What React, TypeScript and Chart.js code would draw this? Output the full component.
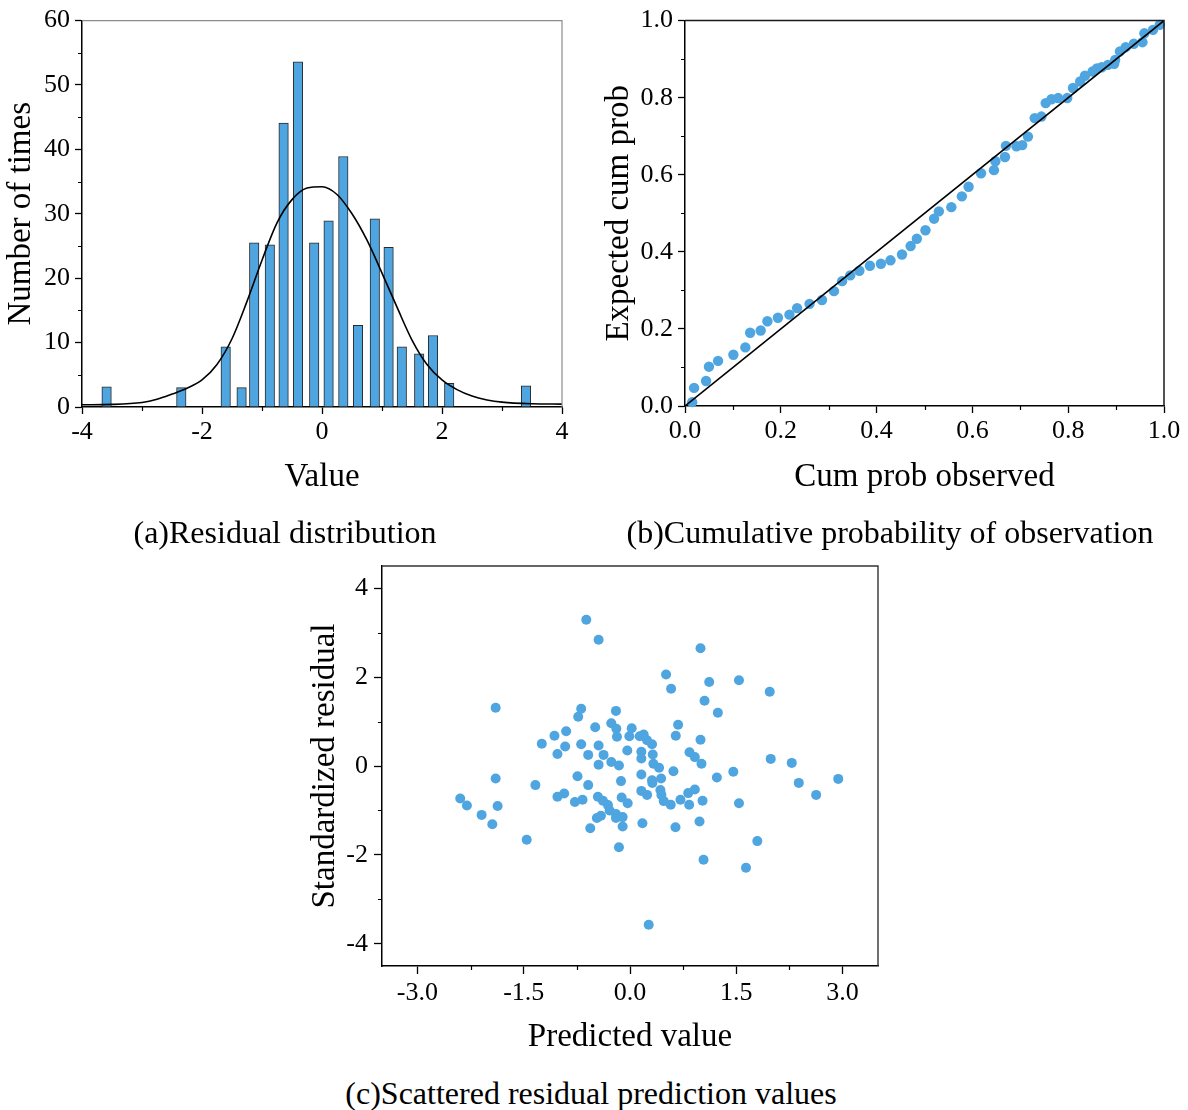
import React, { useEffect, useRef } from "react";
import { Chart, registerables } from "chart.js";

Chart.register(...registerables);

// ---------- Panel (a): residual histogram ----------
const binCenters = [-3.59, -2.345, -1.605, -1.34, -1.13, -0.87, -0.64, -0.4, -0.13, 0.11, 0.355, 0.6, 0.88, 1.11, 1.33, 1.62, 1.85, 2.12, 3.4];
const binCounts = [3.15, 3.0, 9.35, 3.0, 25.5, 25.2, 44.1, 53.6, 25.5, 28.9, 38.9, 12.7, 29.2, 24.8, 9.35, 8.27, 11.1, 3.67, 3.3];
const curveX = [-4, -3.5, -3, -2.75, -2.5, -2.25, -2, -1.75, -1.5, -1.25, -1, -0.75, -0.5, -0.25, 0, 0.25, 0.5, 0.75, 1, 1.25, 1.5, 1.75, 2, 2.25, 2.5, 2.75, 3, 3.5, 4];
const curveY = [0.35, 0.4, 0.7, 1.2, 2.0, 2.9, 4.2, 6.6, 10.6, 16.4, 22.8, 28.6, 32.2, 34.0, 34.2, 33.0, 30.0, 25.9, 20.8, 15.5, 10.4, 6.6, 4.2, 2.7, 1.7, 1.1, 0.75, 0.5, 0.45];
const histXTicks = [-4, -2, 0, 2, 4];
const histXMinor = [-3, -1, 1, 3];
const histYTicks = [0, 10, 20, 30, 40, 50, 60];
const histYMinor = [5, 15, 25, 35, 45, 55];

// ---------- Panel (b): P-P plot ----------
const ppObserved = [0.015, 0.019, 0.044, 0.05, 0.069, 0.101, 0.126, 0.136, 0.158, 0.172, 0.194, 0.218, 0.234, 0.26, 0.286, 0.311, 0.328, 0.345, 0.364, 0.386, 0.409, 0.429, 0.453, 0.471, 0.484, 0.502, 0.52, 0.53, 0.556, 0.578, 0.592, 0.618, 0.645, 0.648, 0.668, 0.67, 0.692, 0.704, 0.716, 0.73, 0.744, 0.753, 0.765, 0.779, 0.798, 0.81, 0.825, 0.835, 0.851, 0.86, 0.87, 0.883, 0.896, 0.898, 0.908, 0.92, 0.937, 0.955, 0.959, 0.977, 0.991];
const ppExpected = [0.01, 0.047, 0.065, 0.102, 0.117, 0.133, 0.152, 0.19, 0.196, 0.22, 0.229, 0.237, 0.254, 0.265, 0.275, 0.298, 0.324, 0.339, 0.351, 0.364, 0.369, 0.378, 0.393, 0.415, 0.434, 0.456, 0.486, 0.505, 0.516, 0.544, 0.569, 0.604, 0.612, 0.635, 0.646, 0.675, 0.674, 0.677, 0.699, 0.747, 0.751, 0.786, 0.796, 0.799, 0.799, 0.825, 0.842, 0.857, 0.868, 0.876, 0.879, 0.885, 0.888, 0.898, 0.92, 0.931, 0.94, 0.944, 0.967, 0.976, 0.989];
const ppTicks = [0, 0.2, 0.4, 0.6, 0.8, 1.0];
const ppMinor = [0.1, 0.3, 0.5, 0.7, 0.9];

// ---------- Panel (c): residual vs predicted ----------
const predicted = [-0.617, -0.443, 0.995, 0.509, 0.58, 1.118, 1.538, 1.972, 1.052, 1.24, -1.896, -0.689, -0.731, -0.198, -0.491, -0.264, -0.193, -0.184, 0.024, -0.009, 0.137, 0.193, 0.241, 0.311, 0.679, 0.646, 0.995, -0.901, -1.066, -1.245, -0.915, -1.024, -0.689, -0.443, -0.59, -0.373, -0.038, 0.16, 0.16, 0.321, -0.264, -0.156, -0.443, 0.33, 0.41, 0.84, 0.915, 1.009, 1.986, 2.283, 2.939, 2.382, 2.627, 1.458, 1.226, 0.613, 0.439, 0.311, 0.316, 0.16, -0.127, -0.741, -0.59, -1.335, -1.896, -2.396, -2.302, -2.094, -1.943, -1.868, -1.458, -1.024, -0.929, -0.778, -0.67, -0.453, -0.382, -0.311, -0.288, -0.198, -0.104, -0.198, -0.41, -0.467, -0.104, -0.561, -0.156, -0.118, -0.033, 0.16, 0.241, 0.175, 0.429, 0.443, 0.476, 0.575, 0.712, 0.821, 0.915, 0.835, 1.024, 0.642, 0.981, 1.038, 1.538, 1.797, 1.637, 0.264];
const residual = [3.29, 2.84, 2.65, 2.06, 1.74, 1.89, 1.93, 1.67, 1.47, 1.2, 1.31, 1.29, 1.11, 1.24, 0.87, 0.96, 0.84, 0.66, 0.85, 0.67, 0.67, 0.71, 0.58, 0.49, 0.93, 0.68, 0.59, 0.78, 0.68, 0.5, 0.44, 0.27, 0.49, 0.46, 0.25, 0.25, 0.35, 0.32, 0.17, 0.26, 0.09, 0.01, 0.03, 0.05, -0.04, 0.31, 0.2, 0.05, 0.16, 0.07, -0.29, -0.38, -0.65, -0.13, -0.26, -0.12, -0.28, -0.32, -0.38, -0.19, -0.34, -0.23, -0.43, -0.43, -0.28, -0.73, -0.89, -1.1, -1.31, -0.9, -1.66, -0.69, -0.62, -0.81, -0.76, -0.69, -0.78, -0.88, -1.0, -1.08, -1.15, -1.17, -1.12, -1.17, -1.36, -1.4, -1.83, -0.71, -0.84, -0.56, -0.65, -1.29, -0.54, -0.65, -0.79, -0.87, -0.76, -0.61, -0.53, -0.87, -0.78, -1.38, -1.25, -2.11, -0.84, -1.69, -2.29, -3.57];
const scXTicks = [-3, -1.5, 0, 1.5, 3];
const scXMinor = [-2.25, -0.75, 0.75, 2.25];
const scYTicks = [-4, -2, 0, 2, 4];
const scYMinor = [-3, -1, 1, 3];

const SERIF = "'Liberation Serif', 'Times New Roman', serif";
const BLUE = "#4fa5e0";
const TICK_FONT = 26;
const TITLE_FONT = 33;

const frameAndMinor = {
  id: "frameAndMinor",
  afterDraw(chart: any, _args: any, opts: any) {
    const { ctx, chartArea } = chart;
    const { left, right, top, bottom } = chartArea;
    ctx.save();
    ctx.strokeStyle = opts.frameColor;
    ctx.lineWidth = opts.frameWidth;
    ctx.beginPath();
    ctx.moveTo(left, top);
    ctx.lineTo(right, top);
    ctx.lineTo(right, bottom);
    ctx.stroke();
    ctx.strokeStyle = "#000";
    ctx.lineWidth = opts.tickWidth;
    const xs = chart.scales.x;
    const ys = chart.scales.y;
    ctx.beginPath();
    for (const v of opts.minorX) {
      const px = Math.round(xs.getPixelForValue(v)) + 0.5;
      ctx.moveTo(px, bottom);
      ctx.lineTo(px, bottom + opts.minorLen);
    }
    for (const v of opts.minorY) {
      const py = Math.round(ys.getPixelForValue(v)) + 0.5;
      ctx.moveTo(left, py);
      ctx.lineTo(left - opts.minorLen, py);
    }
    ctx.stroke();
    ctx.restore();
  },
};

function axis(o: any) {
  return {
    type: "linear",
    min: o.min,
    max: o.max,
    offset: false,
    afterBuildTicks: (s: any) => {
      s.ticks = o.ticks.map((v: number) => ({ value: v }));
    },
    afterFit: (s: any) => {
      if (o.width !== undefined) s.width = o.width;
      if (o.height !== undefined) s.height = o.height;
    },
    grid: {
      display: true,
      drawOnChartArea: false,
      drawTicks: true,
      tickLength: o.tickLength,
      tickWidth: 1.3,
      tickColor: "#000",
      offset: false,
    },
    border: { display: true, color: "#000", width: 1.5 },
    ticks: {
      autoSkip: false,
      maxRotation: 0,
      padding: o.padding,
      color: "#000",
      font: { family: SERIF, size: TICK_FONT },
      callback: o.fmt,
    },
    title: {
      display: true,
      text: o.title,
      color: "#000",
      font: { family: SERIF, size: TITLE_FONT },
      padding: o.titlePadding,
    },
  };
}

function useChart(ref: any, makeConfig: () => any) {
  useEffect(() => {
    const chart = new Chart(ref.current, makeConfig());
    return () => chart.destroy();
  }, []);
}

const baseOpts = {
  responsive: false,
  animation: false,
  events: [],
};

function PanelA() {
  const ref = useRef<HTMLCanvasElement>(null);
  useChart(ref, () => ({
    type: "bar",
    data: {
      datasets: [
        {
          type: "line",
          data: curveX.map((x, i) => ({ x, y: curveY[i] })),
          borderColor: "#000",
          borderWidth: 1.6,
          pointRadius: 0,
          tension: 0.4,
          cubicInterpolationMode: "monotone",
          order: 0,
          clip: false,
        },
        {
          type: "bar",
          data: binCenters.map((x, i) => ({ x, y: binCounts[i] })),
          backgroundColor: BLUE,
          borderColor: "#2a2a2a",
          borderWidth: 1,
          barThickness: 9.5,
          order: 1,
        },
      ],
    },
    options: {
      ...baseOpts,
      layout: { padding: { top: 20, right: 28, left: 0, bottom: 0 } },
      plugins: {
        legend: { display: false },
        tooltip: { enabled: false },
        frameAndMinor: { frameColor: "#8c8c8c", frameWidth: 1.2, tickWidth: 1.2, minorLen: 4, minorX: histXMinor, minorY: histYMinor },
      },
      scales: {
        x: axis({ min: -4, max: 4, ticks: histXTicks, height: 93, tickLength: 7, padding: 3, fmt: (v: number) => String(v), title: "Value", titlePadding: { top: 0, bottom: 3 } }),
        y: axis({ min: 0, max: 60, ticks: histYTicks, width: 82, tickLength: 7, padding: 5, fmt: (v: number) => String(v), title: "Number of times", titlePadding: { top: 2, bottom: 0 } }),
      },
    },
    plugins: [frameAndMinor],
  }));
  return <canvas ref={ref} width={590} height={500} style={{ position: "absolute", left: 0, top: 0 }} />;
}

function PanelB() {
  const ref = useRef<HTMLCanvasElement>(null);
  useChart(ref, () => ({
    type: "scatter",
    data: {
      datasets: [
        {
          type: "line",
          data: [
            { x: 0, y: 0 },
            { x: 1, y: 1 },
          ],
          borderColor: "#000",
          borderWidth: 1.6,
          pointRadius: 0,
          order: 0,
        },
        {
          type: "scatter",
          data: ppObserved.map((x, i) => ({ x, y: ppExpected[i] })),
          backgroundColor: BLUE,
          borderWidth: 0,
          pointRadius: 5.2,
          order: 1,
          clip: false,
        },
      ],
    },
    options: {
      ...baseOpts,
      layout: { padding: { top: 20, right: 24, left: 0, bottom: 0 } },
      plugins: {
        legend: { display: false },
        tooltip: { enabled: false },
        frameAndMinor: { frameColor: "#1a1a1a", frameWidth: 1.5, tickWidth: 1.2, minorLen: 4, minorX: ppMinor, minorY: ppMinor },
      },
      scales: {
        x: axis({ min: 0, max: 1, ticks: ppTicks, height: 94, tickLength: 7, padding: 3, fmt: (v: number) => v.toFixed(1), title: "Cum prob observed", titlePadding: { top: 0, bottom: 3 } }),
        y: axis({ min: 0, max: 1, ticks: ppTicks, width: 95, tickLength: 7, padding: 5, fmt: (v: number) => v.toFixed(1), title: "Expected cum prob", titlePadding: { top: 10, bottom: 0 } }),
      },
    },
    plugins: [frameAndMinor],
  }));
  return <canvas ref={ref} width={598} height={500} style={{ position: "absolute", left: 590, top: 0 }} />;
}

function PanelC() {
  const ref = useRef<HTMLCanvasElement>(null);
  useChart(ref, () => ({
    type: "scatter",
    data: {
      datasets: [
        {
          data: predicted.map((x, i) => ({ x, y: residual[i] })),
          backgroundColor: BLUE,
          borderWidth: 0,
          pointRadius: 5,
          clip: false,
        },
      ],
    },
    options: {
      ...baseOpts,
      layout: { padding: { top: 26, right: 22, left: 0, bottom: 0 } },
      plugins: {
        legend: { display: false },
        tooltip: { enabled: false },
        frameAndMinor: { frameColor: "#333", frameWidth: 1.4, tickWidth: 1.2, minorLen: 4, minorX: scXMinor, minorY: scYMinor },
      },
      scales: {
        x: axis({ min: -3.5, max: 3.5, ticks: scXTicks, height: 94, tickLength: 8, padding: 4, fmt: (v: number) => v.toFixed(1), title: "Predicted value", titlePadding: { top: 0, bottom: 3 } }),
        y: axis({ min: -4.5, max: 4.5, ticks: scYTicks, width: 92, tickLength: 8, padding: 6, fmt: (v: number) => String(v), title: "Standardized residual", titlePadding: { top: 16, bottom: 0 } }),
      },
    },
    plugins: [frameAndMinor],
  }));
  return <canvas ref={ref} width={610} height={520} style={{ position: "absolute", left: 290, top: 540 }} />;
}

const captionStyle = (cx: number, cy: number): React.CSSProperties => ({
  position: "absolute",
  left: cx - 350,
  width: 700,
  top: cy - 19,
  height: 38,
  lineHeight: "38px",
  textAlign: "center",
  fontFamily: SERIF,
  fontSize: 32,
  color: "#000",
  whiteSpace: "nowrap",
});

export default function App() {
  return (
    <div style={{ position: "absolute", left: 0, top: 0, width: 1188, height: 1110, background: "#fff", overflow: "hidden" }}>
      <PanelA />
      <PanelB />
      <PanelC />
      <div style={captionStyle(285, 532)}>(a)Residual distribution</div>
      <div style={captionStyle(890, 532)}>(b)Cumulative probability of observation</div>
      <div style={captionStyle(591, 1093)}>(c)Scattered residual prediction values</div>
    </div>
  );
}
